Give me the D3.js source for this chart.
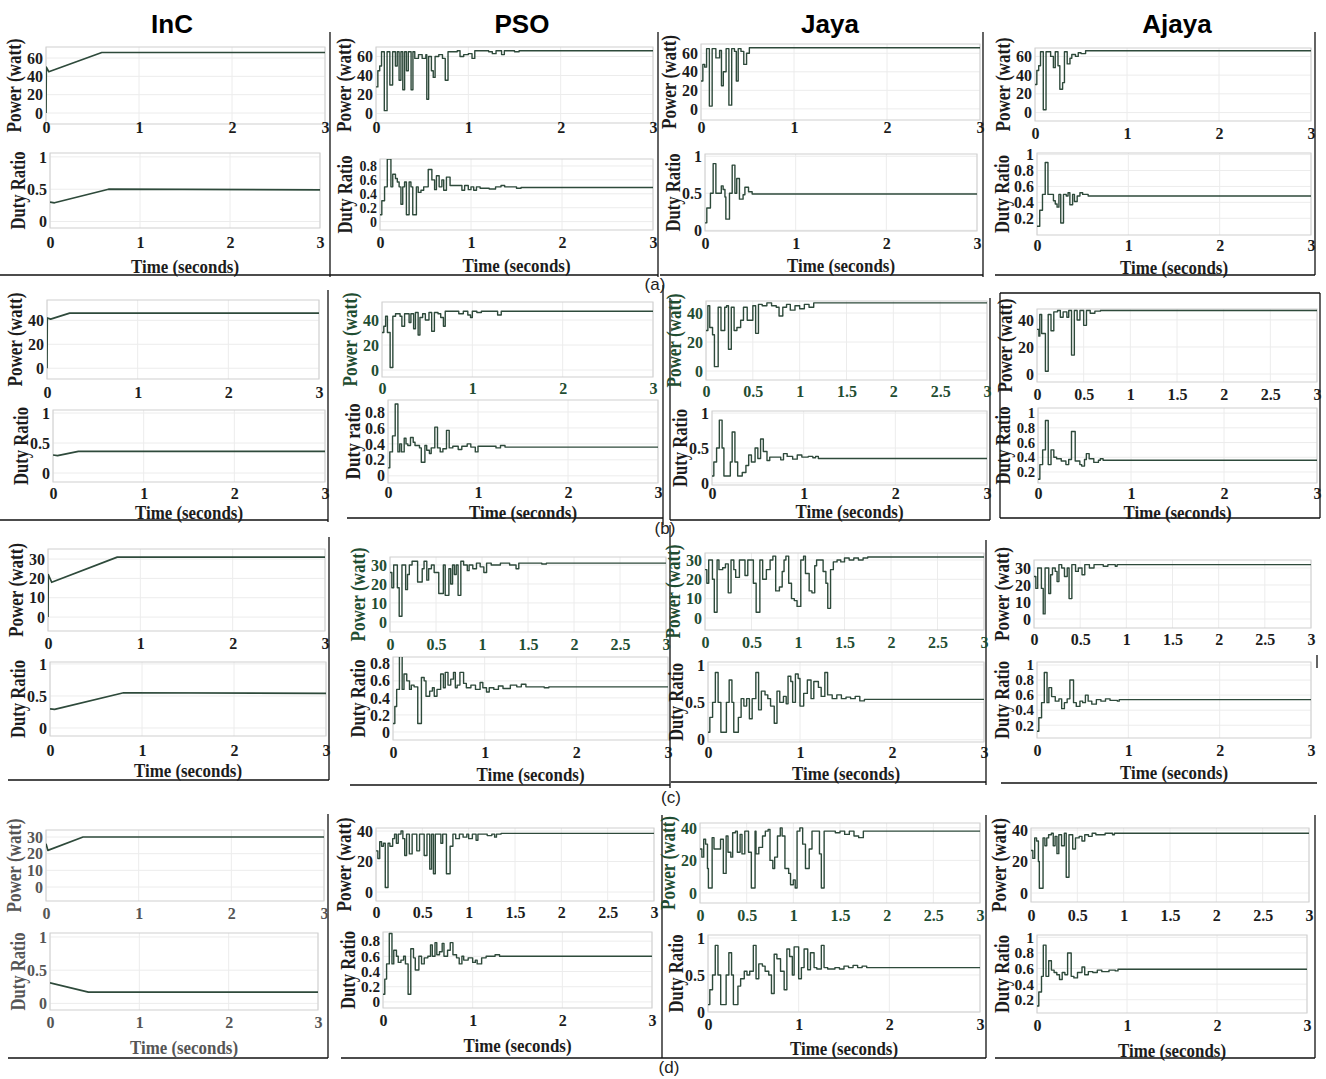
<!DOCTYPE html>
<html><head><meta charset="utf-8">
<script src="https://cdn.jsdelivr.net/npm/d3@7"></script>
<style>body{margin:0;background:#fff}svg{display:block}</style>
</head><body>
<svg id="c" width="1326" height="1079"></svg>
<script>
// ---------------- DATA ----------------
const methods = ["InC", "PSO", "Jaya", "Ajaya"];
const caseLabels = ["(a)", "(b)", "(c)", "(d)"];
const timeTicksInt = [0, 1, 2, 3];
const timeTicksHalf = [0, 0.5, 1, 1.5, 2, 2.5, 3];
const powerTicks60 = [0, 20, 40, 60];
const powerTicks40 = [0, 20, 40];
const powerTicks30 = [0, 10, 20, 30];
const dutyTicksHalf = [0, 0.5, 1];
const dutyTicksTo08 = [0, 0.2, 0.4, 0.6, 0.8];
const dutyTicksFrom02 = [0.2, 0.4, 0.6, 0.8, 1];

// case (a)
const incPowerA = [[0,0],[0.003,50],[0.03,45],[0.6,66],[3,66]];
const incDutyA = [[0,0.3],[0.05,0.29],[0.65,0.5],[3,0.49]];
const psoPowerA = [[0,28],[0.02,45],[0.04,50],[0.06,65],[0.09,3],[0.12,65],[0.15,30],[0.18,65],[0.21,50],[0.23,65],[0.25,35],[0.27,65],[0.29,25],[0.31,65],[0.33,45],[0.35,65],[0.38,25],[0.4,65],[0.42,58],[0.46,62],[0.5,58],[0.54,62],[0.55,15],[0.57,60],[0.6,45],[0.62,38],[0.64,60],[0.68,62],[0.72,58],[0.75,35],[0.78,65],[0.88,66],[0.91,60],[0.95,62],[1.0,63],[1.04,58],[1.07,66],[1.22,65],[1.26,63],[1.3,66],[1.36,62],[1.39,66],[1.5,65],[1.55,66],[3,66]];
const psoDutyA = [[0,0.1],[0.02,0.3],[0.05,0.5],[0.08,0.9],[0.12,0.5],[0.14,0.68],[0.17,0.62],[0.19,0.57],[0.21,0.5],[0.23,0.25],[0.25,0.5],[0.27,0.57],[0.29,0.1],[0.32,0.57],[0.34,0.5],[0.36,0.1],[0.4,0.5],[0.42,0.42],[0.45,0.45],[0.48,0.5],[0.53,0.75],[0.57,0.6],[0.6,0.46],[0.62,0.66],[0.65,0.5],[0.68,0.6],[0.7,0.45],[0.73,0.64],[0.77,0.52],[0.9,0.45],[0.93,0.52],[0.97,0.46],[1.0,0.5],[1.03,0.45],[1.06,0.5],[1.1,0.48],[1.2,0.47],[1.27,0.5],[1.33,0.52],[1.37,0.5],[1.5,0.48],[1.55,0.49],[3,0.49]];
const jayaPowerA = [[0,30],[0.02,48],[0.04,45],[0.06,65],[0.09,3],[0.12,65],[0.16,55],[0.2,63],[0.22,25],[0.24,40],[0.27,65],[0.3,4],[0.33,65],[0.36,62],[0.38,30],[0.4,65],[0.43,62],[0.46,48],[0.49,60],[0.52,66],[3,66]];
const jayaDutyA = [[0,0.1],[0.02,0.3],[0.06,0.5],[0.09,0.9],[0.12,0.5],[0.18,0.6],[0.2,0.55],[0.22,0.45],[0.23,0.15],[0.27,0.5],[0.3,0.88],[0.33,0.5],[0.35,0.7],[0.38,0.42],[0.42,0.48],[0.44,0.58],[0.48,0.52],[0.52,0.49],[3,0.49]];
const ajayaPowerA = [[0,30],[0.02,45],[0.04,50],[0.06,65],[0.09,3],[0.12,65],[0.17,60],[0.2,48],[0.22,65],[0.25,50],[0.27,25],[0.3,32],[0.32,65],[0.35,52],[0.38,58],[0.4,62],[0.44,60],[0.47,64],[0.5,63],[0.55,66],[3,66]];
const ajayaDutyA = [[0,0.1],[0.03,0.3],[0.06,0.5],[0.09,0.9],[0.12,0.5],[0.18,0.42],[0.2,0.38],[0.22,0.34],[0.24,0.5],[0.26,0.14],[0.29,0.5],[0.32,0.48],[0.34,0.52],[0.36,0.37],[0.39,0.5],[0.41,0.41],[0.44,0.48],[0.47,0.52],[0.5,0.5],[0.56,0.48],[3,0.48]];

// case (b)
const incPowerB = [[0,0],[0.003,42],[0.04,41],[0.25,46],[3,46]];
const incDutyB = [[0,0.3],[0.05,0.29],[0.28,0.36],[3,0.36]];
const psoPowerB = [[0,30],[0.02,35],[0.04,43],[0.06,30],[0.09,2],[0.12,43],[0.15,45],[0.2,43],[0.22,35],[0.25,45],[0.28,45],[0.3,38],[0.32,45],[0.35,33],[0.37,46],[0.4,28],[0.42,42],[0.45,45],[0.48,40],[0.52,46],[0.55,31],[0.58,46],[0.62,45],[0.65,42],[0.68,35],[0.7,47],[0.85,45],[0.9,47],[0.95,44],[0.98,42],[1.0,47],[1.05,46],[1.1,47],[1.28,44],[1.32,47],[3,47]];
const psoDutyB = [[0,0.1],[0.02,0.3],[0.05,0.5],[0.08,0.9],[0.11,0.3],[0.13,0.4],[0.15,0.3],[0.18,0.47],[0.2,0.4],[0.22,0.38],[0.25,0.48],[0.28,0.42],[0.3,0.38],[0.35,0.35],[0.37,0.17],[0.41,0.38],[0.43,0.32],[0.46,0.28],[0.48,0.35],[0.52,0.61],[0.55,0.35],[0.58,0.3],[0.61,0.34],[0.65,0.57],[0.68,0.35],[0.72,0.37],[0.78,0.33],[0.82,0.37],[0.88,0.4],[0.92,0.36],[0.97,0.3],[1.0,0.37],[1.2,0.35],[1.25,0.38],[1.3,0.36],[3,0.36]];
const jayaPowerB = [[0,28],[0.02,45],[0.04,30],[0.07,25],[0.09,3],[0.13,44],[0.16,28],[0.2,44],[0.22,45],[0.24,15],[0.27,44],[0.3,28],[0.33,30],[0.37,35],[0.4,44],[0.44,35],[0.47,35],[0.5,45],[0.53,26],[0.56,46],[0.6,45],[0.65,47],[0.7,45],[0.75,44],[0.78,38],[0.82,44],[0.86,46],[0.9,42],[0.95,45],[1.0,43],[1.05,46],[1.1,44],[1.15,47],[3,47]];
const jayaDutyB = [[0,0.1],[0.02,0.3],[0.05,0.5],[0.08,0.9],[0.11,0.5],[0.13,0.1],[0.2,0.3],[0.22,0.73],[0.25,0.3],[0.28,0.1],[0.33,0.15],[0.37,0.25],[0.4,0.4],[0.43,0.3],[0.47,0.5],[0.5,0.35],[0.53,0.63],[0.56,0.45],[0.6,0.32],[0.63,0.37],[0.75,0.33],[0.78,0.42],[0.82,0.38],[0.88,0.34],[0.93,0.4],[0.98,0.37],[1.05,0.38],[1.1,0.36],[1.13,0.38],[1.16,0.35],[3,0.35]];
const ajayaPowerB = [[0,33],[0.02,28],[0.03,44],[0.05,30],[0.09,2],[0.12,44],[0.15,32],[0.18,46],[0.22,47],[0.25,42],[0.28,46],[0.32,42],[0.34,47],[0.37,14],[0.4,47],[0.43,40],[0.46,47],[0.5,36],[0.53,47],[0.57,45],[0.62,46.5],[0.68,47],[3,47]];
const ajayaDutyB = [[0,0.1],[0.02,0.3],[0.05,0.5],[0.08,0.9],[0.11,0.3],[0.14,0.5],[0.17,0.4],[0.2,0.38],[0.25,0.35],[0.3,0.3],[0.33,0.37],[0.36,0.75],[0.4,0.35],[0.45,0.3],[0.47,0.28],[0.5,0.37],[0.52,0.45],[0.55,0.38],[0.6,0.33],[0.65,0.36],[0.67,0.38],[0.7,0.36],[3,0.36]];

// case (c)
const incPowerC = [[0,0],[0.003,22],[0.04,18],[0.75,31],[3,31]];
const incDutyC = [[0,0.3],[0.05,0.29],[0.8,0.55],[3,0.54]];
const psoPowerC = [[0,26],[0.02,18],[0.04,30],[0.08,18],[0.1,3],[0.13,30],[0.17,17],[0.19,25],[0.21,30],[0.24,32],[0.3,21],[0.35,28],[0.37,32],[0.4,22],[0.42,28],[0.45,30],[0.48,26],[0.53,15],[0.58,30],[0.6,14],[0.64,28],[0.66,20],[0.68,30],[0.7,25],[0.72,30],[0.74,14],[0.77,32],[0.8,30],[0.84,27],[0.86,30],[0.9,28],[0.94,31],[0.98,29],[1.02,26],[1.05,31],[1.1,30],[1.2,31],[1.3,30],[1.37,28],[1.4,31],[1.65,30.5],[1.7,31],[3,31]];
const psoDutyC = [[0,0.1],[0.02,0.3],[0.04,0.5],[0.07,0.9],[0.1,0.5],[0.12,0.68],[0.15,0.6],[0.18,0.5],[0.2,0.55],[0.23,0.53],[0.27,0.1],[0.31,0.64],[0.34,0.6],[0.36,0.42],[0.4,0.48],[0.43,0.52],[0.45,0.42],[0.48,0.5],[0.52,0.68],[0.55,0.52],[0.57,0.7],[0.6,0.55],[0.63,0.62],[0.66,0.7],[0.68,0.52],[0.7,0.55],[0.73,0.7],[0.77,0.57],[0.8,0.52],[0.85,0.55],[0.9,0.5],[0.95,0.58],[0.98,0.52],[1.02,0.47],[1.05,0.52],[1.1,0.5],[1.15,0.54],[1.2,0.51],[1.28,0.55],[1.35,0.53],[1.4,0.56],[1.45,0.53],[1.65,0.52],[1.7,0.53],[3,0.53]];
const jayaPowerC = [[0,25],[0.02,18],[0.04,30],[0.08,20],[0.1,3],[0.13,30],[0.15,25],[0.19,26],[0.22,28],[0.25,13],[0.28,30],[0.31,25],[0.33,21],[0.37,30],[0.43,22],[0.46,30],[0.52,18],[0.55,3],[0.59,30],[0.62,20],[0.66,25],[0.7,30],[0.73,32],[0.76,14],[0.8,16],[0.83,24],[0.85,30],[0.87,32],[0.9,18],[0.93,10],[0.96,9],[0.99,6],[1.03,30],[1.06,32],[1.08,23],[1.12,14],[1.15,13],[1.18,27],[1.2,30],[1.27,24],[1.3,18],[1.32,5],[1.35,25],[1.38,29],[1.42,30],[1.46,29],[1.5,31],[1.55,30],[1.6,31],[1.65,30],[1.7,31],[1.75,31.5],[3,31.5]];
const jayaDutyC = [[0,0.1],[0.02,0.3],[0.05,0.5],[0.08,0.9],[0.11,0.5],[0.14,0.1],[0.2,0.5],[0.23,0.8],[0.26,0.5],[0.28,0.1],[0.33,0.3],[0.36,0.55],[0.39,0.45],[0.42,0.55],[0.45,0.28],[0.48,0.55],[0.52,0.9],[0.55,0.4],[0.58,0.65],[0.62,0.6],[0.65,0.55],[0.68,0.45],[0.72,0.22],[0.75,0.65],[0.78,0.5],[0.82,0.58],[0.85,0.48],[0.87,0.85],[0.9,0.78],[0.92,0.5],[0.95,0.88],[0.98,0.82],[1.0,0.45],[1.04,0.62],[1.08,0.8],[1.12,0.55],[1.15,0.78],[1.2,0.7],[1.23,0.58],[1.27,0.9],[1.3,0.6],[1.35,0.55],[1.4,0.6],[1.45,0.55],[1.5,0.57],[1.55,0.55],[1.6,0.58],[1.65,0.52],[1.7,0.54],[3,0.54]];
const ajayaPowerC = [[0,25],[0.02,18],[0.04,30],[0.08,18],[0.1,3],[0.12,30],[0.16,15],[0.18,26],[0.2,30],[0.23,28],[0.25,22],[0.27,32],[0.3,30],[0.33,25],[0.36,30],[0.38,12],[0.41,32],[0.45,28],[0.48,30],[0.52,26],[0.55,32],[0.6,30],[0.65,32],[0.75,31],[0.8,32],[0.88,31],[0.9,32],[3,32]];
const ajayaDutyC = [[0,0.12],[0.02,0.3],[0.05,0.5],[0.08,0.9],[0.11,0.5],[0.13,0.7],[0.16,0.58],[0.2,0.52],[0.24,0.55],[0.27,0.42],[0.3,0.5],[0.33,0.55],[0.36,0.8],[0.4,0.5],[0.43,0.45],[0.47,0.52],[0.5,0.5],[0.53,0.6],[0.56,0.52],[0.6,0.48],[0.65,0.54],[0.7,0.52],[0.75,0.55],[0.8,0.53],[0.88,0.52],[0.9,0.54],[3,0.54]];

// case (d)
const incPowerD = [[0,26],[0.02,22],[0.4,30],[3,30]];
const incDutyD = [[0,0.31],[0.43,0.17],[3,0.17]];
const psoPowerD = [[0,27],[0.02,22],[0.04,33],[0.06,30],[0.08,32],[0.1,3],[0.13,32],[0.15,30],[0.18,35],[0.2,38],[0.22,32],[0.24,38],[0.27,40],[0.29,35],[0.31,24],[0.33,38],[0.36,25],[0.39,38],[0.44,27],[0.47,38],[0.52,24],[0.55,38],[0.58,15],[0.6,38],[0.62,12],[0.64,38],[0.7,32],[0.72,38],[0.76,12],[0.8,30],[0.83,38],[0.86,35],[0.9,38],[0.94,36],[0.98,38],[1.0,35],[1.04,38],[1.08,34],[1.1,38],[1.2,37],[1.25,38],[1.28,36],[1.3,38],[1.35,38.5],[3,38.5]];
const psoDutyD = [[0,0.1],[0.02,0.3],[0.04,0.5],[0.07,0.9],[0.1,0.5],[0.12,0.68],[0.15,0.6],[0.17,0.52],[0.2,0.55],[0.23,0.6],[0.25,0.5],[0.28,0.1],[0.31,0.7],[0.34,0.58],[0.36,0.42],[0.4,0.6],[0.43,0.5],[0.46,0.58],[0.5,0.6],[0.53,0.75],[0.55,0.6],[0.58,0.78],[0.6,0.62],[0.63,0.66],[0.66,0.77],[0.68,0.6],[0.72,0.68],[0.75,0.78],[0.78,0.62],[0.82,0.58],[0.85,0.5],[0.88,0.6],[0.9,0.55],[0.95,0.58],[1.0,0.52],[1.03,0.55],[1.05,0.5],[1.1,0.58],[1.15,0.6],[1.25,0.62],[1.3,0.6],[3,0.6]];
const jayaPowerD = [[0,27],[0.02,22],[0.04,33],[0.06,30],[0.08,15],[0.09,3],[0.13,34],[0.15,27],[0.22,33],[0.25,12],[0.28,35],[0.3,25],[0.33,22],[0.35,37],[0.38,38],[0.4,25],[0.43,36],[0.45,24],[0.48,38],[0.52,25],[0.55,3],[0.59,38],[0.6,24],[0.63,28],[0.67,35],[0.7,38],[0.73,39],[0.75,20],[0.78,15],[0.8,22],[0.83,35],[0.86,40],[0.88,35],[0.91,15],[0.95,12],[0.97,5],[1.0,8],[1.02,3],[1.04,38],[1.07,40],[1.1,30],[1.13,15],[1.17,27],[1.2,38],[1.28,24],[1.3,3],[1.33,38],[1.45,37],[1.5,38],[1.55,36],[1.6,38],[1.65,35],[1.7,34],[1.75,38],[3,38]];
const jayaDutyD = [[0,0.1],[0.02,0.3],[0.05,0.5],[0.08,0.9],[0.11,0.5],[0.14,0.1],[0.2,0.5],[0.23,0.8],[0.26,0.5],[0.28,0.1],[0.33,0.35],[0.36,0.45],[0.4,0.55],[0.43,0.5],[0.46,0.55],[0.5,0.9],[0.53,0.45],[0.56,0.65],[0.6,0.62],[0.63,0.55],[0.67,0.5],[0.7,0.25],[0.73,0.78],[0.76,0.72],[0.8,0.55],[0.84,0.3],[0.87,0.85],[0.9,0.75],[0.93,0.5],[0.95,0.88],[1.0,0.45],[1.03,0.6],[1.06,0.85],[1.1,0.57],[1.13,0.8],[1.17,0.6],[1.2,0.58],[1.25,0.9],[1.28,0.6],[1.32,0.58],[1.4,0.6],[1.45,0.58],[1.5,0.62],[1.55,0.6],[1.6,0.63],[1.65,0.6],[1.7,0.62],[1.75,0.6],[3,0.6]];
const ajayaPowerD = [[0,27],[0.02,22],[0.04,35],[0.06,33],[0.08,20],[0.09,3],[0.13,35],[0.15,30],[0.17,35],[0.19,37],[0.22,38],[0.24,30],[0.26,36],[0.28,25],[0.3,37],[0.33,30],[0.36,38],[0.38,10],[0.41,37],[0.45,28],[0.48,35],[0.52,36],[0.55,33],[0.58,37],[0.62,36],[0.66,38],[0.7,37],[0.8,38],[0.88,37],[0.9,38],[3,38]];
const ajayaDutyD = [[0,0.12],[0.02,0.3],[0.05,0.5],[0.07,0.9],[0.1,0.5],[0.13,0.7],[0.16,0.58],[0.19,0.55],[0.22,0.52],[0.25,0.46],[0.28,0.55],[0.31,0.52],[0.34,0.8],[0.38,0.5],[0.41,0.48],[0.45,0.55],[0.5,0.62],[0.53,0.52],[0.57,0.56],[0.62,0.55],[0.67,0.58],[0.72,0.56],[0.8,0.58],[0.87,0.57],[0.9,0.59],[3,0.59]];

// ---------------- LAYOUT ----------------
const plots = [
  // (a)
  {d:incPowerA, box:[46,325,47,124], dom:[-12,72], yt:powerTicks60, xt:timeTicksInt, xl:128, lab:"Power (watt)", lin:true},
  {d:incDutyA, box:[50,320,153,228], dom:[-0.1,1.06], yt:dutyTicksHalf, xt:timeTicksInt, xl:243, tl:266, lab:"Duty Ratio", lin:true},
  {d:psoPowerA, box:[376,653,47,123], dom:[-10,70], yt:powerTicks60, xt:timeTicksInt, xl:128, lab:"Power (watt)"},
  {d:psoDutyA, box:[380,653,159,230], dom:[-0.12,0.9], yt:dutyTicksTo08, xt:timeTicksInt, xl:243, tl:265, lab:"Duty Ratio"},
  {d:jayaPowerA, box:[701,980,44,120], dom:[-12,70], yt:powerTicks60, xt:timeTicksInt, xl:128, lab:"Power (watt)"},
  {d:jayaDutyA, box:[705,977,154,231], dom:[-0.01,1.03], yt:dutyTicksHalf, xt:timeTicksInt, xl:244, tl:265, lab:"Duty Ratio"},
  {d:ajayaPowerA, box:[1035,1311,48,121], dom:[-9,69], yt:powerTicks60, xt:timeTicksInt, xl:134, lab:"Power (watt)"},
  {d:ajayaDutyA, box:[1037,1311,153,235], dom:[-0.01,1.02], yt:dutyTicksFrom02, xt:timeTicksInt, xl:246, tl:267, lab:"Duty Ratio"},
  // (b)
  {d:incPowerB, box:[47,319,300,379], dom:[-9,57], yt:powerTicks40, xt:timeTicksInt, xl:393, lab:"Power (watt)", lin:true},
  {d:incDutyB, box:[53,325,410,482], dom:[-0.15,1.05], yt:dutyTicksHalf, xt:timeTicksInt, xl:494, tl:512, lab:"Duty Ratio", lin:true},
  {d:psoPowerB, box:[382,653,302,377], dom:[-5.6,54.4], yt:powerTicks40, xt:timeTicksInt, xl:389, lab:"Power (watt)", green:true},
  {d:psoDutyB, box:[388,658,400,483], dom:[-0.09,0.95], yt:dutyTicksTo08, xt:timeTicksInt, xl:493, tl:512, lab:"Duty ratio"},
  {d:jayaPowerB, box:[706,987,301,380], dom:[-6.2,48.3], yt:powerTicks40, xt:timeTicksHalf, xl:392, lab:"Power (watt)", green:true},
  {d:jayaDutyB, box:[712,987,411,485], dom:[-0.03,1.03], yt:dutyTicksHalf, xt:timeTicksInt, xl:494, tl:511, lab:"Duty Ratio"},
  {d:ajayaPowerB, box:[1037,1317,309,382], dom:[-5.9,48.1], yt:powerTicks40, xt:timeTicksHalf, xl:395, lab:"Power (watt)"},
  {d:ajayaDutyB, box:[1038,1317,408,483], dom:[0.05,1.07], yt:dutyTicksFrom02, xt:timeTicksInt, xl:494, tl:512, lab:"Duty Ratio"},
  // (c)
  {d:incPowerC, box:[48,325,549,631], dom:[-7.2,35.2], yt:powerTicks30, xt:timeTicksInt, xl:644, lab:"Power (watt)", lin:true},
  {d:incDutyC, box:[50,326,662,736], dom:[-0.125,1.03], yt:dutyTicksHalf, xt:timeTicksInt, xl:751, tl:770, lab:"Duty Ratio", lin:true},
  {d:psoPowerC, box:[390,666,557,632], dom:[-5.3,34.2], yt:powerTicks30, xt:timeTicksHalf, xl:645, lab:"Power (watt)", green:true},
  {d:psoDutyC, box:[393,668,657,740], dom:[-0.094,0.88], yt:dutyTicksTo08, xt:timeTicksInt, xl:753, tl:774, lab:"Duty Ratio"},
  {d:jayaPowerC, box:[705,984,553,630], dom:[-6.2,33.6], yt:powerTicks30, xt:timeTicksHalf, xl:643, lab:"Power (watt)", green:true},
  {d:jayaDutyC, box:[708,984,662,742], dom:[-0.03,1.04], yt:dutyTicksHalf, xt:timeTicksInt, xl:753, tl:773, lab:"Duty Ratio"},
  {d:ajayaPowerC, box:[1034,1311,560,628], dom:[-5.3,34.7], yt:powerTicks30, xt:timeTicksHalf, xl:640, lab:"Power (watt)"},
  {d:ajayaDutyC, box:[1037,1311,662,738], dom:[0.03,1.04], yt:dutyTicksFrom02, xt:timeTicksInt, xl:751, tl:772, lab:"Duty Ratio"},
  // (d)
  {d:incPowerD, box:[46,324,830,901], dom:[-8.4,34.2], yt:powerTicks30, xt:timeTicksInt, xl:914, lab:"Power (watt)", lin:true, grey:true},
  {d:incDutyD, box:[50,318,933,1010], dom:[-0.1,1.06], yt:dutyTicksHalf, xt:timeTicksInt, xl:1023, tl:1047, lab:"Duty Ratio", lin:true, grey:true},
  {d:psoPowerD, box:[376,654,828,901], dom:[-5.9,42], yt:powerTicks40, xt:timeTicksHalf, xl:913, lab:"Power (watt)"},
  {d:psoDutyD, box:[383,652,932,1008], dom:[-0.08,0.92], yt:dutyTicksTo08, xt:timeTicksInt, xl:1021, tl:1045, lab:"Duty Ratio"},
  {d:jayaPowerD, box:[700,980,823,903], dom:[-6.2,43], yt:powerTicks40, xt:timeTicksHalf, xl:916, lab:"Power (watt)", green:true},
  {d:jayaDutyD, box:[708,980,935,1012], dom:[0,1.04], yt:dutyTicksHalf, xt:timeTicksInt, xl:1025, tl:1048, lab:"Duty Ratio"},
  {d:ajayaPowerD, box:[1031,1309,828,902], dom:[-5.7,41.3], yt:powerTicks40, xt:timeTicksHalf, xl:916, lab:"Power (watt)"},
  {d:ajayaDutyD, box:[1037,1307,935,1013], dom:[0.03,1.03], yt:dutyTicksFrom02, xt:timeTicksInt, xl:1026, tl:1050, lab:"Duty Ratio"}
];

const titleX = [172, 522, 830, 1177];
const caseLabelPos = [[655,284],[665,528],[671,797],[669,1067]];
const frameLines = [
  [330,32,330,277],[0,275,330,275],[658,32,658,277],[330,275,658,275],[983,32,983,277],[660,275,983,275],[1315,32,1315,275],[995,275,1315,275],
  [328,290,328,522],[0,520,328,520],[663,285,663,525],[347,518,663,518],[670,298,670,520],[990,298,990,520],[670,520,990,520],
  [1000,293,1320,293],[1000,293,1000,518],[1320,293,1320,518],[1000,518,1320,518],
  [329,537,329,780],[8,780,329,780],[670,525,670,788],[350,785,670,785],[986,540,986,785],[671,782,986,782],[1001,783,1317,783],[1317,655,1317,668],
  [328,814,328,1058],[8,1058,328,1058],[662,815,662,1058],[341,1058,662,1058],[986,815,986,1058],[662,1058,986,1058],[995,1058,1315,1058],[1315,815,1315,1058]
];

// ---------------- DRAW ----------------
const svg = d3.select("#c");
svg.append("rect").attr("width",1326).attr("height",1079).attr("fill","#fff");
const SERIF = "'Liberation Serif','Times New Roman',serif";
const SANS = "'Liberation Sans',Arial,sans-serif";
const LINE = "#2e4a3b";
const GREEN = "#1f4d32";

svg.selectAll("text.title").data(methods).join("text")
  .attr("class","title").attr("x",(d,i)=>titleX[i]).attr("y",33)
  .attr("text-anchor","middle").attr("font-family",SANS).attr("font-weight","bold")
  .attr("font-size",26).attr("fill","#000").text(d=>d);

svg.selectAll("line.frame").data(frameLines).join("line").attr("class","frame")
  .attr("x1",d=>d[0]).attr("y1",d=>d[1]).attr("x2",d=>d[2]).attr("y2",d=>d[3])
  .attr("stroke","#111").attr("stroke-width",1.3);

svg.selectAll("text.case").data(caseLabels).join("text").attr("class","case")
  .attr("x",(d,i)=>caseLabelPos[i][0]).attr("y",(d,i)=>caseLabelPos[i][1])
  .attr("text-anchor","middle").attr("dominant-baseline","central")
  .attr("font-family",SANS).attr("font-size",17).attr("fill","#222").text(d=>d);

const labelLen = {"Power (watt)": 94, "Duty Ratio": 78, "Duty ratio": 76, "Time (seconds)": 108};

plots.forEach((p, idx) => {
  const [x0,x1,y0,y1] = p.box;
  const x = d3.scaleLinear().domain([0,3]).range([x0,x1]);
  const y = d3.scaleLinear().domain(p.dom).range([y1,y0]);
  const g = svg.append("g");
  const txtCol = p.grey ? "#555" : "#1c1c1c";
  const tickCol = p.green ? GREEN : txtCol;

  // grid
  g.selectAll("line.gx").data(p.xt).join("line")
    .attr("x1",d=>x(d)).attr("x2",d=>x(d)).attr("y1",y0).attr("y2",y1)
    .attr("stroke","#ececec").attr("stroke-width",1);
  g.selectAll("line.gy").data(p.yt).join("line")
    .attr("x1",x0).attr("x2",x1).attr("y1",d=>y(d)).attr("y2",d=>y(d))
    .attr("stroke","#ececec").attr("stroke-width",1);
  g.append("rect").attr("x",x0).attr("y",y0).attr("width",x1-x0).attr("height",y1-y0)
    .attr("fill","none").attr("stroke","#cfcfcf").attr("stroke-width",1);

  // clip + line
  const cid = "clip" + idx;
  svg.append("clipPath").attr("id",cid).append("rect")
    .attr("x",x0).attr("y",y0).attr("width",x1-x0).attr("height",y1-y0);
  const line = d3.line().x(d=>x(d[0])).y(d=>y(d[1]))
    .curve(p.lin ? d3.curveLinear : d3.curveStepAfter);
  g.append("path").datum(p.d).attr("d",line).attr("clip-path",`url(#${cid})`)
    .attr("fill","none").attr("stroke",LINE).attr("stroke-width",p.lin?1.7:1.4)
    .attr("stroke-linejoin","round");

  // axes (y tick font shrinks when ticks are tightly spaced)
  const spacing = Math.abs(y(p.yt[0]) - y(p.yt[1]));
  const yFont = Math.min(16, spacing);
  const yAxis = d3.axisLeft(y).tickValues(p.yt).tickSize(0).tickPadding(3).tickFormat(d=>String(d));
  const ya = g.append("g").attr("transform",`translate(${x0},0)`).call(yAxis);
  const xAxis = d3.axisBottom(x).tickValues(p.xt).tickSize(0).tickPadding(0).tickFormat(d=>String(d));
  const xa = g.append("g").attr("transform",`translate(0,${p.xl-6})`).call(xAxis);
  [[ya, yFont], [xa, 16]].forEach(([a, fs]) => {
    a.select(".domain").remove();
    a.attr("font-family",SERIF).attr("font-size",fs).attr("font-weight","bold");
    a.selectAll("text").attr("fill",tickCol);
  });

  // y label
  const decimalTicks = p.yt.some(v => v % 1 !== 0 && v !== 0.5);
  const lx = x0 - (decimalTicks ? 35 : 32);
  g.append("text").attr("transform",`translate(${lx},${(y0+y1)/2}) rotate(-90)`)
    .attr("text-anchor","middle").attr("dominant-baseline","central")
    .attr("font-family",SERIF).attr("font-weight","bold").attr("font-size",20)
    .attr("textLength",labelLen[p.lab]).attr("lengthAdjust","spacingAndGlyphs")
    .attr("fill",p.green?GREEN:txtCol).text(p.lab);

  if (p.tl) {
    g.append("text").attr("x",(x0+x1)/2).attr("y",p.tl)
      .attr("text-anchor","middle").attr("dominant-baseline","central")
      .attr("font-family",SERIF).attr("font-weight","bold").attr("font-size",19)
      .attr("textLength",labelLen["Time (seconds)"]).attr("lengthAdjust","spacingAndGlyphs")
      .attr("fill",txtCol).text("Time (seconds)");
  }
});
</script>
</body></html>
